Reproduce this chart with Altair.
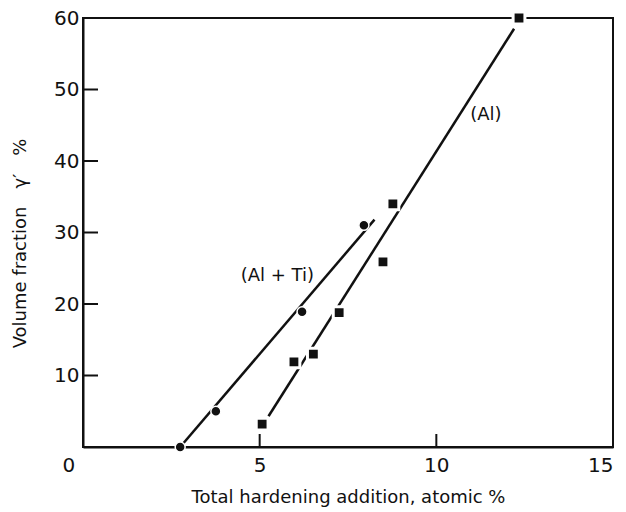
import altair as alt
import pandas as pd

# Al + Ti series (circles)
circ_x = [2.75, 3.76, 6.2, 7.95]
circ_y = [0, 5, 18.9, 31]
# Al series (squares)
sq_x = [5.07, 5.97, 6.52, 7.25, 8.49, 8.77, 12.34]
sq_y = [3.2, 11.9, 13.0, 18.8, 25.9, 34.0, 60]
# fitted lines (endpoints)
fit_alti_x = [2.75, 8.25]
fit_alti_y = [0, 31.8]
fit_al_x = [5.25, 12.2]
fit_al_y = [4.3, 58.5]
# tick values
x_ticks = [0, 5, 10, 15]
y_ticks = [10, 20, 30, 40, 50, 60]
x_inner_ticks = [5, 10]
y_inner_ticks = [10, 20, 30, 40, 50]
# annotations
ann_text = ["(Al + Ti)", "(Al)"]
ann_x = [5.5, 11.4]
ann_y = [23.9, 46.4]

W, H = 530, 429
FONT = "DejaVu Sans"
INK = "#111111"

xs = alt.Scale(domain=[0, 15], nice=False)
ys = alt.Scale(domain=[0, 60], nice=False)

xaxis = alt.Axis(values=x_ticks, ticks=False, title="Total hardening addition, atomic %",
                 labelFontSize=20, labelPadding=8, titleFontSize=18, titlePadding=13,
                 labelOffset={"condition": {"test": "datum.value === 0", "value": -21}, "value": 0},
                 domainColor=INK, domainWidth=2, labelColor=INK, titleColor=INK,
                 labelFont=FONT, titleFont=FONT, titleFontWeight="normal", grid=False)
yaxis = alt.Axis(values=y_ticks, ticks=False, title="Volume fraction\u2003γ′\u2003%",
                 labelFontSize=20, labelPadding=4, titleFontSize=18,
                 titleX=-63, titleY=225, titleAngle=270, titleAlign="center",
                 titleBaseline="middle",
                 domainColor=INK, domainWidth=2, labelColor=INK, titleColor=INK,
                 labelFont=FONT, titleFont=FONT, titleFontWeight="normal", grid=False)

circ_df = pd.DataFrame({"x": circ_x, "y": circ_y})
sq_df = pd.DataFrame({"x": sq_x, "y": sq_y})
fit_df = pd.DataFrame({
    "x": fit_alti_x + fit_al_x,
    "y": fit_alti_y + fit_al_y,
    "s": ["AlTi", "AlTi", "Al", "Al"],
})
ann_df = pd.DataFrame({"t": ann_text, "x": ann_x, "y": ann_y})

base_axes = alt.Chart(circ_df).mark_point(opacity=0).encode(
    x=alt.X("x:Q", scale=xs, axis=xaxis),
    y=alt.Y("y:Q", scale=ys, axis=yaxis),
)

lines = alt.Chart(fit_df).mark_line(color=INK, strokeWidth=2.5).encode(
    x=alt.X("x:Q", scale=xs), y=alt.Y("y:Q", scale=ys), detail="s:N"
)

ytk = alt.Chart(pd.DataFrame({"v": y_inner_ticks})).mark_rule(color=INK, strokeWidth=2).encode(
    y=alt.Y("v:Q", scale=ys), x=alt.value(0), x2=alt.value(15)
)
xtk = alt.Chart(pd.DataFrame({"v": x_inner_ticks})).mark_rule(color=INK, strokeWidth=2).encode(
    x=alt.X("v:Q", scale=xs), y=alt.value(H), y2=alt.value(H - 13)
)

circles = alt.Chart(circ_df).mark_circle(size=100, color=INK, opacity=1, stroke="white",
                                         strokeWidth=1.5).encode(
    x=alt.X("x:Q", scale=xs), y=alt.Y("y:Q", scale=ys)
)
squares = alt.Chart(sq_df).mark_square(size=140, color=INK, opacity=1, stroke="white",
                                       strokeWidth=3).encode(
    x=alt.X("x:Q", scale=xs), y=alt.Y("y:Q", scale=ys)
)

ann = alt.Chart(ann_df).mark_text(font=FONT, fontSize=18, color=INK).encode(
    x=alt.X("x:Q", scale=xs), y=alt.Y("y:Q", scale=ys), text="t:N"
)

chart = alt.layer(base_axes, lines, ytk, xtk, circles, squares, ann).properties(
    width=W, height=H,
    autosize=alt.AutoSizeParams(type="none"),
    padding={"left": 83, "top": 18, "right": 13, "bottom": 65},
    background="white",
).configure_view(stroke=INK, strokeWidth=2)

chart.save("out.html", embed_options={"renderer": "svg", "actions": False})
